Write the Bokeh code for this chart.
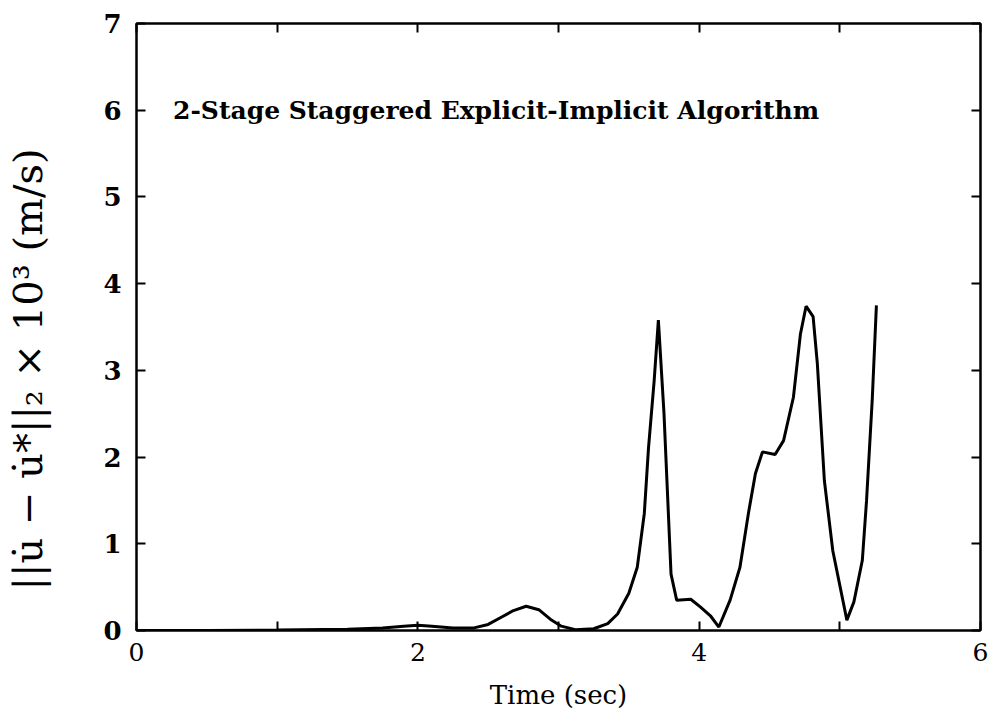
from bokeh.plotting import figure
from bokeh.models import LinearAxis, FixedTicker, Range1d, Label, Title
from bokeh.embed import file_html
from bokeh.resources import INLINE

# Data
time_sec = [0.0, 0.5, 1.0, 1.5, 1.75, 1.9, 2.0, 2.1, 2.25, 2.4, 2.5, 2.59, 2.68,
            2.77, 2.86, 2.95, 3.02, 3.12, 3.25, 3.35, 3.42, 3.50, 3.56, 3.61, 3.64,
            3.68, 3.71, 3.75, 3.80, 3.84, 3.94, 4.01, 4.08, 4.14, 4.22, 4.29,
            4.35, 4.40, 4.45, 4.54, 4.60, 4.67, 4.72, 4.76, 4.81, 4.84, 4.89,
            4.95, 5.05, 5.10, 5.16, 5.19, 5.23, 5.26]
error_norm = [0.0, 0.0, 0.005, 0.015, 0.03, 0.05, 0.06, 0.05, 0.03, 0.03, 0.07,
              0.15, 0.23, 0.28, 0.24, 0.12, 0.05, 0.01, 0.02, 0.08, 0.19, 0.43, 0.73,
              1.35, 2.11, 2.88, 3.58, 2.50, 0.65, 0.35, 0.36, 0.27, 0.17, 0.04,
              0.35, 0.73, 1.35, 1.81, 2.06, 2.03, 2.19, 2.69, 3.42, 3.74, 3.62,
              3.08, 1.73, 0.92, 0.12, 0.33, 0.81, 1.50, 2.65, 3.75]
x_ticks = [0, 1, 2, 3, 4, 5, 6]
x_tick_labels = {0: "0", 1: "", 2: "2", 3: "", 4: "4", 5: "", 6: "6"}
y_ticks = [0, 1, 2, 3, 4, 5, 6, 7]
title_text = "2-Stage Staggered Explicit-Implicit Algorithm"
x_label = "Time (sec)"
y_label = "||u̇ − u̇*||₂ × 10³ (m/s)"

SERIF = "DejaVu Serif"

p = figure(width=990, height=717, output_backend="svg", toolbar_location=None,
           x_range=Range1d(0, 6), y_range=Range1d(0, 7),
           min_border_left=136, min_border_right=10, min_border_top=23,
           min_border_bottom=87, x_axis_location=None, y_axis_location=None)
p.xgrid.visible = False
p.ygrid.visible = False
p.outline_line_color = "black"
p.outline_line_width = 2
p.background_fill_color = "white"
p.border_fill_color = "white"

p.line(time_sec, error_norm, line_color="black", line_width=3)

def style(ax, labels=True):
    ax.axis_line_color = "black"
    ax.axis_line_width = 2
    ax.major_tick_in = 9
    ax.major_tick_out = 0
    ax.minor_tick_in = 0
    ax.minor_tick_out = 0
    ax.major_tick_line_width = 2
    ax.major_tick_line_color = "black"
    ax.major_label_text_color = "black"
    ax.axis_label_text_color = "black"
    if not labels:
        ax.major_label_text_font_size = "0px"
        ax.major_label_text_color = None

xb = LinearAxis(ticker=FixedTicker(ticks=x_ticks), axis_label=x_label)
style(xb)
xb.major_label_overrides = x_tick_labels
xb.major_label_text_font = SERIF
xb.major_label_text_font_size = "25px"
xb.major_label_standoff = 12
xb.axis_label_text_font = SERIF
xb.axis_label_text_font_style = "normal"
xb.axis_label_text_font_size = "26px"
xb.axis_label_standoff = 16
p.add_layout(xb, "below")

# blank axis label only reserves room so the y title sits near the page edge
yl = LinearAxis(ticker=FixedTicker(ticks=y_ticks), axis_label="\u00a0")
style(yl)
yl.major_label_text_font = SERIF
yl.major_label_text_font_style = "bold"
yl.major_label_text_font_size = "26px"
yl.major_label_standoff = 15
yl.axis_label_text_font_size = "10px"
yl.axis_label_standoff = 36
p.add_layout(yl, "left")

xt = LinearAxis(ticker=FixedTicker(ticks=x_ticks))
style(xt, labels=False)
p.add_layout(xt, "above")

yr = LinearAxis(ticker=FixedTicker(ticks=y_ticks))
style(yr, labels=False)
p.add_layout(yr, "right")

p.add_layout(Label(x=0.26, y=6.0, text=title_text, text_font=SERIF,
                   text_font_style="bold", text_font_size="25px",
                   text_baseline="middle", text_color="black"))

ytitle = Title(text=y_label, align="left", offset=40, standoff=0,
               text_font=SERIF, text_font_style="normal",
               text_font_size="40px", text_color="black")
p.add_layout(ytitle, "left")

open("out.html", "w").write(file_html(p, INLINE))
